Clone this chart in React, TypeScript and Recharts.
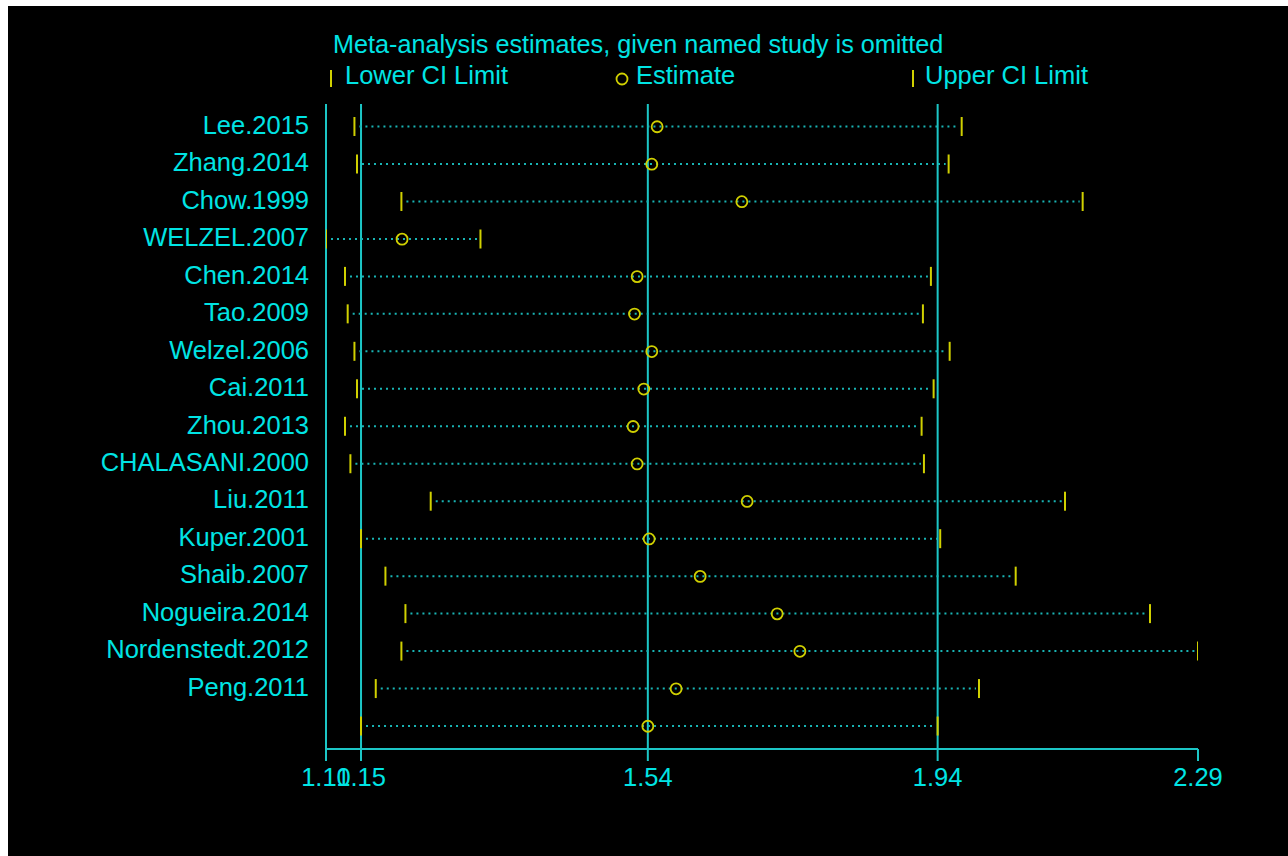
import React from 'react';
import { ComposedChart, Bar, Line, XAxis, YAxis, ReferenceLine } from 'recharts';

const studies = [
  'Lee.2015', 'Zhang.2014', 'Chow.1999', 'WELZEL.2007', 'Chen.2014', 'Tao.2009',
  'Welzel.2006', 'Cai.2011', 'Zhou.2013', 'CHALASANI.2000', 'Liu.2011', 'Kuper.2001',
  'Shaib.2007', 'Nogueira.2014', 'Nordenstedt.2012', 'Peng.2011', '',
];
const lowerCI = [
  1.1428, 1.1463, 1.2069, 1.104, 1.1299, 1.1336, 1.1428, 1.1463, 1.1299, 1.1373,
  1.2469, 1.1518, 1.1851, 1.2124, 1.2069, 1.1719, 1.1518,
];
const estimates = [
  1.5559, 1.5486, 1.6715, 1.2078, 1.5286, 1.525, 1.5486, 1.5377, 1.5231, 1.5286,
  1.6787, 1.545, 1.6146, 1.7197, 1.7507, 1.5818, 1.5432,
];
const upperCI = [
  1.9715, 1.9537, 2.1366, 1.3148, 1.9295, 1.9186, 1.9551, 1.9332, 1.9168, 1.92,
  2.1125, 1.9422, 2.0452, 2.2285, 2.294, 1.9951, 1.9387,
];
const axisMin = 1.104;
const axisMax = 2.294;
const overallLower = 1.1518;
const overallEstimate = 1.5432;
const overallUpper = 1.9387;
const xTicks = [axisMin, overallLower, overallEstimate, overallUpper, axisMax];

const titleText = 'Meta-analysis estimates, given named study is omitted';
const legendLabels = ['Lower CI Limit', 'Estimate', 'Upper CI Limit'];

const data = studies.map((name, i) => ({
  name,
  ci: [lowerCI[i], upperCI[i]],
  est: estimates[i],
}));

const TEXT = '#00E4E4';
const LINE = '#1CC6C6';
const DOT = '#19B4B4';
const YEL = '#D0D000';
const FONT = '"Liberation Sans", Arial, sans-serif';
const FS = 25.5;

const CIShape = (props: any) => {
  const { x, y, width, height } = props;
  const cy = y + height / 2;
  return (
    <g>
      <line x1={x + 5} x2={x + width - 3} y1={cy} y2={cy} stroke={DOT} strokeWidth={2} strokeDasharray="2 4" />
      <line x1={x} x2={x} y1={y} y2={y + height} stroke={YEL} strokeWidth={2} />
      <line x1={x + width} x2={x + width} y1={y} y2={y + height} stroke={YEL} strokeWidth={2} />
    </g>
  );
};

const StudyTick = (props: any) => {
  const { x, y, payload } = props;
  return (
    <text x={x} y={y} dy={7} textAnchor="end" fill={TEXT} fontSize={FS} fontFamily={FONT}>
      {payload.value}
    </text>
  );
};

export default function App() {
  return (
    <div style={{ position: 'absolute', left: 8, top: 6, width: 1280, height: 850, background: '#000', overflow: 'hidden' }}>
      <svg width={1280} height={100} style={{ position: 'absolute', left: 0, top: 0 }}>
        <text x={325} y={47} fill={TEXT} fontSize={25.2} fontFamily={FONT}>{titleText}</text>
        <line x1={323} x2={323} y1={64} y2={81} stroke={YEL} strokeWidth={2} />
        <text x={337} y={78} fill={TEXT} fontSize={FS} fontFamily={FONT}>{legendLabels[0]}</text>
        <circle cx={614} cy={73} r={5.5} fill="none" stroke={YEL} strokeWidth={1.8} />
        <text x={628} y={78} fill={TEXT} fontSize={FS} fontFamily={FONT}>{legendLabels[1]}</text>
        <line x1={905} x2={905} y1={64} y2={81} stroke={YEL} strokeWidth={2} />
        <text x={917} y={78} fill={TEXT} fontSize={FS} fontFamily={FONT}>{legendLabels[2]}</text>
      </svg>
      <div style={{ position: 'absolute', left: 0, top: 0 }}>
        <ComposedChart
          width={1280}
          height={850}
          data={data}
          layout="vertical"
          margin={{ top: 98, right: 90, bottom: 47, left: 0 }}
          style={{ fontFamily: FONT }}
        >
          <XAxis
            type="number"
            domain={[axisMin, axisMax]}
            allowDataOverflow
            ticks={xTicks}
            interval={0}
            tickFormatter={(v: number) => v.toFixed(2)}
            height={60}
            tickSize={12}
            tickMargin={7}
            axisLine={{ stroke: LINE, strokeWidth: 2 }}
            tickLine={{ stroke: LINE, strokeWidth: 2 }}
            tick={{ fill: TEXT, fontSize: FS, fontFamily: FONT }}
          />
          <YAxis
            type="category"
            dataKey="name"
            width={318}
            interval={0}
            axisLine={false}
            tickLine={false}
            tickSize={0}
            tickMargin={17}
            padding={{ top: 4, bottom: 4 }}
            tick={<StudyTick />}
          />
          <ReferenceLine x={axisMin} stroke={LINE} strokeWidth={2} zIndex={-10} />
          <ReferenceLine x={overallLower} stroke={LINE} strokeWidth={2} zIndex={-10} />
          <ReferenceLine x={overallEstimate} stroke={LINE} strokeWidth={2} zIndex={-10} />
          <ReferenceLine x={overallUpper} stroke={LINE} strokeWidth={2} zIndex={-10} />
          <Bar dataKey="ci" barSize={19} shape={CIShape} isAnimationActive={false} />
          <Line
            dataKey="est"
            stroke="none"
            dot={{ r: 5.5, fill: 'none', stroke: YEL, strokeWidth: 1.8 }}
            activeDot={false}
            isAnimationActive={false}
          />
        </ComposedChart>
      </div>
    </div>
  );
}
